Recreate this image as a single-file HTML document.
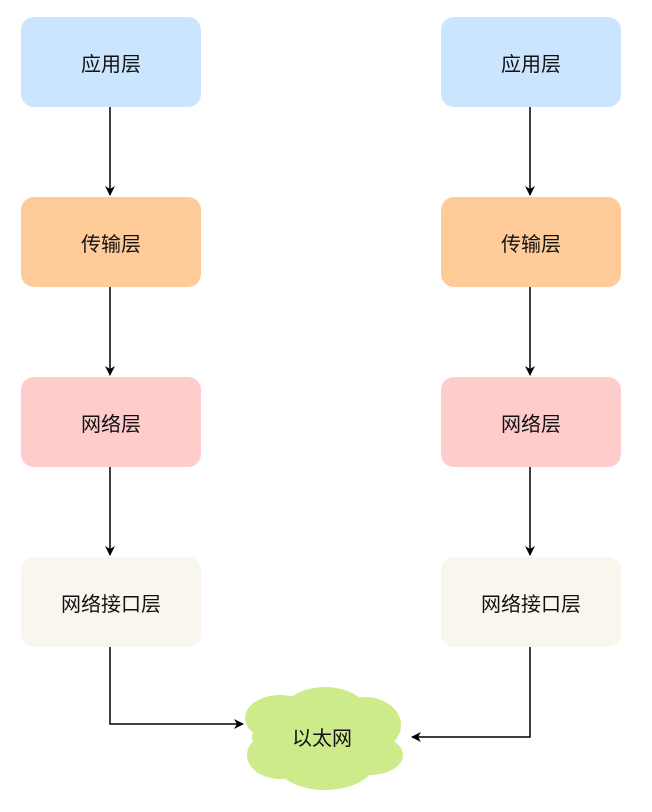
<!DOCTYPE html>
<html><head><meta charset="utf-8"><style>
body{margin:0;background:#fff;}
.b{position:absolute;width:180px;height:90px;border-radius:13px;display:flex;align-items:center;justify-content:center;font:20px "Liberation Sans","Noto Sans CJK SC",sans-serif;color:#111;}
</style></head><body>
<div style="position:relative;width:652px;height:812px;">
<svg width="652" height="812" style="position:absolute;left:0;top:0">
<defs><marker id="a" markerWidth="10" markerHeight="10" refX="9" refY="5" orient="auto" markerUnits="userSpaceOnUse"><path d="M0,0 L10,5 L0,10 L3,5z" fill="#000"/></marker></defs>
<g stroke="#000" stroke-width="1.5" fill="none" marker-start="url(#a)" marker-end="url(#a)">
<line x1="110" y1="108" x2="110" y2="195"/><line x1="110" y1="288" x2="110" y2="375"/><line x1="110" y1="468" x2="110" y2="555"/>
<line x1="530" y1="108" x2="530" y2="195"/><line x1="530" y1="288" x2="530" y2="375"/><line x1="530" y1="468" x2="530" y2="555"/>
<polyline points="110,648 110,724 243,724"/><polyline points="530,648 530,737 412,737"/>
</g>
<g fill="#cdeb8b">
<ellipse cx="325" cy="717" rx="45" ry="30"/><ellipse cx="280" cy="718" rx="35" ry="23"/><ellipse cx="365" cy="725" rx="36" ry="28"/>
<ellipse cx="280" cy="755" rx="33" ry="24"/><ellipse cx="370" cy="755" rx="33" ry="20"/><ellipse cx="325" cy="762" rx="50" ry="28"/><ellipse cx="322" cy="737" rx="70" ry="30"/>
</g>
<text x="322" y="745" font-family="Liberation Sans,Noto Sans CJK SC,sans-serif" font-size="20" text-anchor="middle" fill="#111">以太网</text>
</svg>
<div class="b" style="left:21px;top:17px;background:#cce5ff">应用层</div>
<div class="b" style="left:21px;top:197px;background:#ffcc99">传输层</div>
<div class="b" style="left:21px;top:377px;background:#ffcccc">网络层</div>
<div class="b" style="left:21px;top:557px;background:#f9f7ed">网络接口层</div>
<div class="b" style="left:441px;top:17px;background:#cce5ff">应用层</div>
<div class="b" style="left:441px;top:197px;background:#ffcc99">传输层</div>
<div class="b" style="left:441px;top:377px;background:#ffcccc">网络层</div>
<div class="b" style="left:441px;top:557px;background:#f9f7ed">网络接口层</div>
</div>
</body></html>
